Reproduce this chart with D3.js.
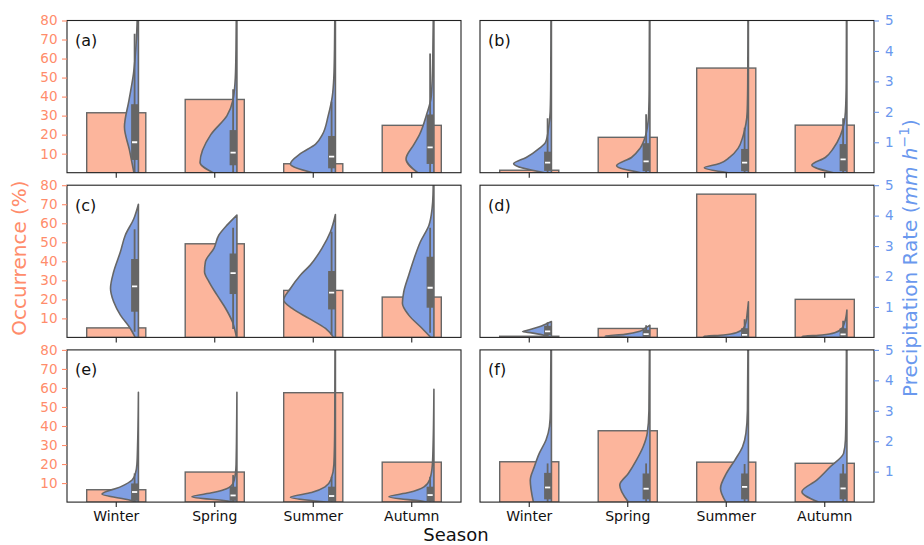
<!DOCTYPE html>
<html>
<head>
<meta charset="utf-8">
<script src="https://cdn.jsdelivr.net/npm/d3@7"></script>
<style>
  body { margin: 0; background: #fff; }
  svg { display: block; font-family: "DejaVu Sans", sans-serif; }
</style>
</head>
<body>
<svg id="fig" width="924" height="545"></svg>
<script>
// ---------------- data ----------------
const seasons = ["Winter", "Spring", "Summer", "Autumn"];
const occTicks = [10, 20, 30, 40, 50, 60, 70, 80];
const rateTicks = [1, 2, 3, 4, 5];
const panelNames = ["(a)", "(b)", "(c)", "(d)", "(e)", "(f)"];

// seasonal occurrence (%) shown as bars
const occA = [31.5, 38.5, 4.7, 24.9];
const occB = [1.3, 18.6, 55.0, 25.0];
const occC = [5.0, 49.2, 24.7, 21.2];
const occD = [0.6, 4.7, 75.3, 20.0];
const occE = [6.5, 15.8, 57.5, 21.0];
const occF = [21.2, 37.5, 21.0, 20.4];

// half-violin profiles: [value, relative density]
const violinA = [
  [[0, 0.10], [12, 0.20], [24, 0.31], [38, 0.21], [52, 0.11], [70, 0.045], [80, 0.027], [100, 0.01]],
  [[0, 0.53], [5.3, 0.82], [20, 0.58], [30, 0.22], [38, 0.09], [50, 0.035], [65, 0.02], [90, 0.01]],
  [[0, 0.51], [4.6, 1.0], [10, 0.78], [15, 0.44], [20, 0.29], [30, 0.16], [40, 0.07], [50, 0.035], [65, 0.02], [90, 0.01]],
  [[0, 0.36], [7.2, 0.62], [15, 0.44], [20, 0.32], [30, 0.17], [40, 0.06], [55, 0.03], [70, 0.02], [90, 0.01]]
];
const violinB = [
  [[0, 0.15], [0.29, 0.84], [0.5, 0.56], [0.8, 0.27], [1.0, 0.13], [1.5, 0.06], [2, 0.027], [3, 0.015], [5.5, 0.01]],
  [[0, 0.2], [0.23, 0.74], [0.5, 0.41], [0.8, 0.22], [1.2, 0.1], [1.5, 0.056], [2, 0.027], [2.8, 0.016], [5.5, 0.01]],
  [[0, 0.45], [0.16, 0.98], [0.3, 0.64], [0.5, 0.42], [0.8, 0.23], [1.2, 0.12], [1.6, 0.056], [2, 0.027], [3, 0.015], [5.5, 0.01]],
  [[0, 0.3], [0.25, 0.78], [0.5, 0.48], [0.8, 0.3], [1.2, 0.15], [1.6, 0.067], [2, 0.033], [3, 0.015], [5.5, 0.01]]
];
const violinC = [
  [[0, 0.07], [4.7, 0.18], [11.7, 0.4], [18.7, 0.55], [25.7, 0.62], [34.5, 0.55], [45, 0.4], [53.8, 0.29], [62.5, 0.1], [70, 0]],
  [[0, 0.01], [8.2, 0.1], [15.2, 0.25], [22.2, 0.44], [29.2, 0.62], [34.5, 0.72], [39.8, 0.7], [46.8, 0.51], [53.8, 0.4], [59, 0.22], [64.3, 0]],
  [[0, 0.04], [4.7, 0.22], [10, 0.59], [15.2, 0.96], [19.6, 1.15], [25.7, 1.0], [32.7, 0.78], [38, 0.56], [46.8, 0.3], [55.5, 0.11], [64.6, 0]],
  [[0, 0.07], [4.7, 0.26], [11.7, 0.56], [17.9, 0.7], [24, 0.67], [32.7, 0.56], [41.5, 0.44], [50.3, 0.3], [59, 0.11], [67.8, 0.04], [75, 0.02], [90, 0.01]]
];
const violinD = [
  [[0.03, 0.04], [0.15, 0.44], [0.19, 0.64], [0.25, 0.49], [0.35, 0.27], [0.45, 0.11], [0.52, 0]],
  [[0, 0.2], [0.04, 1.0], [0.1, 0.56], [0.2, 0.22], [0.3, 0.11], [0.4, 0]],
  [[0, 0.2], [0.03, 1.0], [0.08, 0.55], [0.15, 0.27], [0.3, 0.11], [0.5, 0.055], [0.8, 0.027], [1.17, 0]],
  [[0, 0.2], [0.03, 1.0], [0.08, 0.55], [0.15, 0.27], [0.3, 0.11], [0.5, 0.05], [0.9, 0]]
];
const violinE = [
  [[0, 0.05], [1, 0.18], [4.2, 0.81], [8, 0.4], [11.6, 0.14], [15, 0.067], [20, 0.033], [30, 0.018], [57.7, 0]],
  [[0, 0.1], [0.5, 0.2], [2.8, 1.0], [5, 0.53], [7, 0.23], [10, 0.082], [15, 0.033], [20, 0.018], [57.7, 0]],
  [[0, 0.2], [0.3, 0.33], [2.5, 1.0], [5, 0.53], [8, 0.23], [12, 0.096], [20, 0.033], [40, 0.015], [90, 0.008]],
  [[0, 0.15], [0.3, 0.22], [2.8, 1.0], [5, 0.56], [8, 0.22], [12, 0.09], [20, 0.033], [30, 0.018], [59.3, 0]]
];
const violinF = [
  [[0, 0.4], [0.72, 0.47], [1.16, 0.38], [1.6, 0.27], [2.04, 0.12], [2.48, 0.044], [3, 0.022], [5.5, 0.01]],
  [[0, 0.48], [0.56, 0.67], [0.94, 0.48], [1.38, 0.3], [1.82, 0.15], [2.26, 0.06], [3, 0.022], [5.5, 0.01]],
  [[0, 0.5], [0.45, 0.62], [0.94, 0.49], [1.38, 0.3], [1.82, 0.13], [2.26, 0.056], [3, 0.022], [5.5, 0.01]],
  [[0, 0.63], [0.34, 1.0], [0.72, 0.67], [1.16, 0.37], [1.6, 0.074], [2.04, 0.033], [3, 0.02], [5.5, 0.01]]
];

// inner box statistics: [whisker low, q1, median, q3, whisker high]
const boxA = [[0, 6.7, 16, 36, 73], [0, 3.9, 10.5, 22.4, 43.8], [0, 2.3, 8.4, 19.3, 37.3], [0, 4.6, 13.3, 30.6, 62.7]];
const boxB = [[0, 0.06, 0.33, 0.69, 1.79], [0, 0.05, 0.37, 0.97, 1.92], [0, 0.05, 0.33, 0.78, 1.48], [0, 0.05, 0.44, 0.94, 1.79]];
const boxC = [[3, 13.5, 26.8, 41.2, 56.9], [4.4, 22.8, 33.8, 44.1, 57.6], [1.2, 14.7, 23.5, 34.9, 55.5], [2.5, 15.6, 26.1, 42.4, 57.6]];
const boxD = [[0.03, 0.08, 0.2, 0.38, 0.5], [0, 0.02, 0.11, 0.25, 0.4], [0, 0.02, 0.08, 0.3, 0.6], [0, 0.02, 0.1, 0.3, 0.55]];
const boxE = [[0, 0.7, 5.3, 9.8, 15.1], [0, 0.7, 3.5, 8.1, 14.2], [0, 0.4, 3.2, 8.1, 13.3], [0, 0.4, 3.7, 8.1, 13.3]];
const boxF = [[0, 0.09, 0.48, 0.96, 1.27], [0, 0.09, 0.44, 0.94, 1.27], [0, 0.09, 0.5, 0.94, 1.25], [0, 0.09, 0.45, 0.94, 1.25]];

// ---------------- layout & style ----------------
const occColor = "#ff8c6b";
const rateColor = "#6a98ee";
const barFill = "#fcb59c";
const violinFill = "#809fe3";
const edgeGray = "#666666";

const colX = [[67, 461], [480, 874]];
const rowTop = [20.5, 185.2, 349.9];
const panelH = 152.2;

const panels = [
  { occ: occA, viol: violinA, box: boxA, row: 0, col: 0 },
  { occ: occB, viol: violinB, box: boxB, row: 0, col: 1 },
  { occ: occC, viol: violinC, box: boxC, row: 1, col: 0 },
  { occ: occD, viol: violinD, box: boxD, row: 1, col: 1 },
  { occ: occE, viol: violinE, box: boxE, row: 2, col: 0 },
  { occ: occF, viol: violinF, box: boxF, row: 2, col: 1 }
];

const svg = d3.select("#fig");
const defs = svg.append("defs");
const widthScale = d3.scaleLinear().domain([0, 1]).range([0, 45]);

panels.forEach((p, i) => {
  const [x0, x1] = colX[p.col];
  const top = rowTop[p.row];
  const bottom = top + panelH;

  const x = d3.scaleBand().domain(seasons).range([x0, x1]).padding(0);
  const yOcc = d3.scaleLinear().domain([0, 80]).range([bottom, top]);
  const yRate = d3.scaleLinear().domain([0, 5]).range([bottom, top]);
  const yViol = p.col === 0 ? yOcc : yRate;
  const bw = x.bandwidth();

  const clipId = "clip" + i;
  defs.append("clipPath").attr("id", clipId)
    .append("rect").attr("x", x0).attr("y", top).attr("width", x1 - x0).attr("height", panelH);

  const g = svg.append("g");
  const plot = g.append("g").attr("clip-path", `url(#${clipId})`);

  // occurrence bars
  plot.selectAll("rect.bar").data(p.occ).join("rect")
    .attr("class", "bar")
    .attr("x", (d, j) => x(seasons[j]) + bw * 0.2)
    .attr("width", bw * 0.6)
    .attr("y", d => yOcc(d))
    .attr("height", d => yOcc(0) - yOcc(d))
    .attr("fill", barFill)
    .attr("stroke", edgeGray)
    .attr("stroke-width", 1.4);

  // half violins with inner box
  p.viol.forEach((prof, j) => {
    const cx = x(seasons[j]) + bw * 0.5 + bw * 0.225;
    const area = d3.area()
      .y(d => yViol(d[0]))
      .x0(d => cx - widthScale(d[1]))
      .x1(cx)
      .curve(d3.curveMonotoneY);
    plot.append("path")
      .attr("d", area(prof))
      .attr("fill", violinFill)
      .attr("stroke", edgeGray)
      .attr("stroke-width", 1.6)
      .attr("stroke-linejoin", "round");

    const [lo, q1, med, q3, hi] = p.box[j];
    const bx = cx - 3.8;
    plot.append("line")
      .attr("x1", bx).attr("x2", bx)
      .attr("y1", yViol(lo)).attr("y2", yViol(hi))
      .attr("stroke", edgeGray).attr("stroke-width", 1.8);
    plot.append("rect")
      .attr("x", bx - 3.5).attr("width", 7)
      .attr("y", yViol(q3)).attr("height", yViol(q1) - yViol(q3))
      .attr("fill", edgeGray);
    plot.append("line")
      .attr("x1", bx - 2.6).attr("x2", bx + 2.6)
      .attr("y1", yViol(med)).attr("y2", yViol(med))
      .attr("stroke", "#ffffff").attr("stroke-width", 1.8);
  });

  // frame
  g.append("rect")
    .attr("x", x0).attr("y", top).attr("width", x1 - x0).attr("height", panelH)
    .attr("fill", "none").attr("stroke", "#222").attr("stroke-width", 1.1);

  // x axis ticks (labels only on the bottom row)
  const xAxis = d3.axisBottom(x).tickSize(5).tickPadding(4)
    .tickFormat(p.row === 2 ? (d => d) : () => "");
  const gx = g.append("g").attr("transform", `translate(0,${bottom})`).call(xAxis);
  gx.select(".domain").remove();
  gx.selectAll(".tick line").attr("stroke", "#222").attr("stroke-width", 1.1);
  gx.selectAll(".tick text").attr("font-size", 14).attr("fill", "#111")
    .attr("font-family", "DejaVu Sans, sans-serif");

  // y axes: occurrence on the left column, precipitation rate on the right
  if (p.col === 0) {
    const yAxis = d3.axisLeft(yOcc).tickValues(occTicks).tickFormat(d3.format("d"))
      .tickSize(5).tickPadding(4.5);
    const gy = g.append("g").attr("transform", `translate(${x0},0)`).call(yAxis);
    gy.select(".domain").remove();
    gy.selectAll(".tick line").attr("stroke", occColor).attr("stroke-width", 1.1);
    gy.selectAll(".tick text").attr("font-size", 13.5).attr("fill", occColor)
      .attr("font-family", "DejaVu Sans, sans-serif");
  } else {
    const yAxis = d3.axisRight(yRate).tickValues(rateTicks).tickFormat(d3.format("d"))
      .tickSize(5).tickPadding(6);
    const gy = g.append("g").attr("transform", `translate(${x1},0)`).call(yAxis);
    gy.select(".domain").remove();
    gy.selectAll(".tick line").attr("stroke", rateColor).attr("stroke-width", 1.1);
    gy.selectAll(".tick text").attr("font-size", 13.5).attr("fill", rateColor)
      .attr("font-family", "DejaVu Sans, sans-serif");
  }

  // panel label
  g.append("text")
    .attr("x", x0 + 8).attr("y", top + 25.5)
    .attr("font-size", 16).attr("fill", "#111")
    .text(panelNames[i]);
});

// axis titles
svg.append("text")
  .attr("transform", "translate(26,258) rotate(-90)")
  .attr("text-anchor", "middle")
  .attr("font-size", 20).attr("fill", occColor)
  .text("Occurrence (%)");

const rateLabel = svg.append("text")
  .attr("transform", "translate(917,258) rotate(-90)")
  .attr("text-anchor", "middle")
  .attr("font-size", 20).attr("fill", rateColor);
rateLabel.append("tspan").text("Precipitation Rate (");
rateLabel.append("tspan").attr("font-style", "italic").text("mm h");
rateLabel.append("tspan").attr("font-size", 14).attr("dy", -8).text("\u22121");
rateLabel.append("tspan").attr("dy", 8).text(")");

svg.append("text")
  .attr("x", 456).attr("y", 540.6)
  .attr("text-anchor", "middle")
  .attr("font-size", 18).attr("fill", "#111")
  .text("Season");
</script>
</body>
</html>
